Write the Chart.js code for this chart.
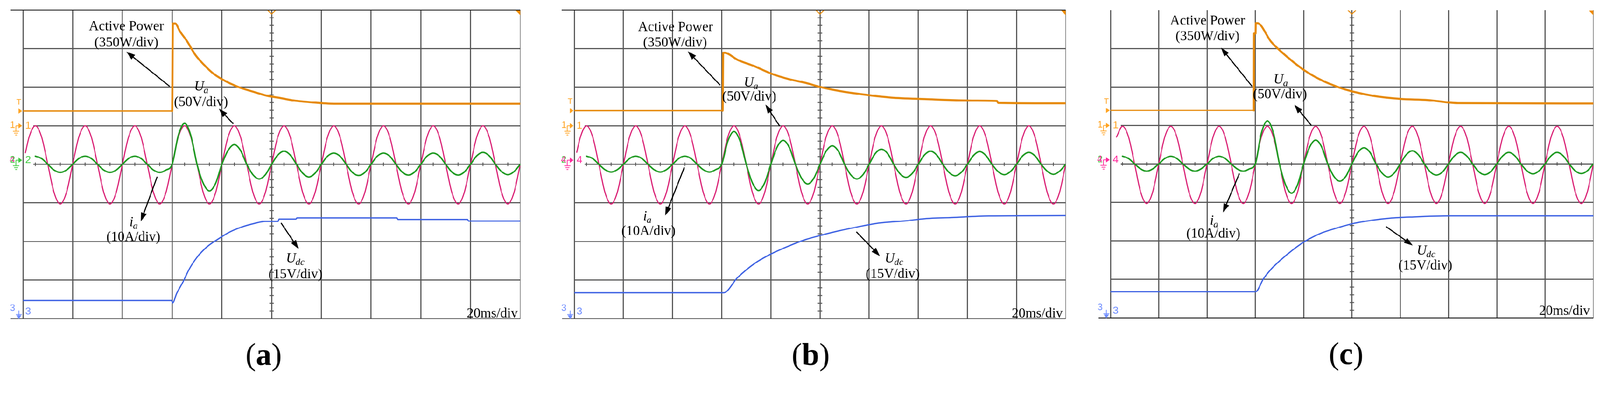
<!DOCTYPE html>
<html><head><meta charset="utf-8">
<script src="https://cdn.jsdelivr.net/npm/chart.js@4.4.1/dist/chart.umd.min.js"></script>
<style>
html,body{margin:0;padding:0;background:#fff;overflow:hidden}
#wrap{position:absolute;left:0;top:0;width:4324px;height:1020px;transform-origin:0 0}
canvas{position:absolute;top:0}
</style></head><body>
<div id="wrap">
<canvas id="ca" width="1441" height="1020" style="left:0px"></canvas>
<canvas id="cb" width="1441" height="1020" style="left:1441px"></canvas>
<canvas id="cc" width="1442" height="1020" style="left:2882px"></canvas>
</div>
<script>
// fit the 4324x1020 design to the actual viewport
(function () {
  const s = Math.min(window.innerWidth / 4324, window.innerHeight / 1020);
  if (s > 0 && Math.abs(s - 1) > 0.003) document.getElementById('wrap').style.transform = 'scale(' + s + ')';
})();

// ---------- data (time in ms, 20 ms/div; amplitudes in screen divisions) ----------
const MS_PER_DIV = 20;
const sineT = [1,2.5,5,7.5,10,12.5,15,17.5,20,22.5,25,27.5,30,32.5,35,37.5,40,42.5,45,47.5,50,52.5,55,57.5,60,
 62.5,65,67.5,70,72.5,75,77.5,80,82.5,85,87.5,90,92.5,95,97.5,100,102.5,105,107.5,110,112.5,115,117.5,120,
 122.5,125,127.5,130,132.5,135,137.5,140,142.5,145,147.5,150,152.5,155,157.5,160,162.5,165,167.5,170,172.5,
 175,177.5,180,182.5,185,187.5,190,192.5,195,197.5,200];

const uaA = [0.30,
 0.71,1.00,0.71,0,-0.73,-1.03,-0.73,0,
 0.71,1.00,0.71,0,-0.73,-1.03,-0.73,0,
 0.71,1.00,0.71,0,-0.73,-1.03,-0.73,0,
 0.71,1.00,0.71,0,-0.73,-1.03,-0.73,0,
 0.71,1.00,0.71,0,-0.73,-1.03,-0.73,0,
 0.71,1.00,0.71,0,-0.73,-1.03,-0.73,0,
 0.71,1.00,0.71,0,-0.73,-1.03,-0.73,0,
 0.71,1.00,0.71,0,-0.73,-1.03,-0.73,0,
 0.71,1.00,0.71,0,-0.73,-1.03,-0.73,0,
 0.71,1.00,0.71,0,-0.73,-1.03,-0.73,0];
const iaA = [null,
 null,0.21,0.15,0,-0.15,-0.21,-0.15,0,
 0.15,0.21,0.15,0,-0.15,-0.21,-0.15,0,
 0.15,0.21,0.15,0,-0.15,-0.21,-0.15,0,
 0.75,1.06,0.75,0,-0.49,-0.69,-0.49,0,
 0.36,0.51,0.36,0,-0.27,-0.38,-0.27,0,
 0.24,0.34,0.24,0,-0.23,-0.33,-0.23,0,
 0.21,0.29,0.21,0,-0.21,-0.29,-0.21,0,
 0.21,0.29,0.21,0,-0.20,-0.28,-0.20,0,
 0.21,0.29,0.21,0,-0.20,-0.28,-0.20,0,
 0.22,0.31,0.22,0,-0.19,-0.27,-0.19,0];
const pwrTA = [0,60,60.3,61.2,63.2,66,69.4,72.8,76.2,80.2,86.4,93.2,98,103.4,108.2,115.6,125.2,200];
const pwrVA = [1.38,1.38,3.65,3.65,3.44,3.19,2.83,2.58,2.37,2.20,2.01,1.87,1.78,1.72,1.66,1.61,1.57,1.57];
const udcTA = [0,59.8,60.2,61.8,64.6,66.6,70,74,78.2,83,87.8,93.2,97.4,102.6,103,109.8,110.2,150.4,150.8,178.8,179.2,200];
const udcVA = [-3.53,-3.53,-3.59,-3.35,-3.02,-2.75,-2.41,-2.14,-1.95,-1.76,-1.63,-1.53,-1.48,-1.48,-1.42,-1.42,-1.39,-1.39,-1.43,-1.43,-1.47,-1.47];

const uaB = [0.31,
 0.71,1.00,0.71,0,-0.73,-1.03,-0.73,0,
 0.71,1.00,0.71,0,-0.73,-1.03,-0.73,0,
 0.71,1.00,0.71,0,-0.73,-1.03,-0.73,0,
 0.71,1.00,0.71,0,-0.73,-1.03,-0.73,0,
 0.71,1.00,0.71,0,-0.73,-1.03,-0.73,0,
 0.71,1.00,0.71,0,-0.73,-1.03,-0.73,0,
 0.71,1.00,0.71,0,-0.73,-1.03,-0.73,0,
 0.71,1.00,0.71,0,-0.73,-1.03,-0.73,0,
 0.71,1.00,0.71,0,-0.73,-1.03,-0.73,0,
 0.71,1.00,0.71,0,-0.73,-1.03,-0.73,0];
const iaB = [null,
 null,0.21,0.15,0,-0.14,-0.20,-0.14,0,
 0.15,0.21,0.15,0,-0.14,-0.20,-0.14,0,
 0.15,0.21,0.15,0,-0.14,-0.20,-0.14,0,
 0.60,0.85,0.60,0,-0.48,-0.68,-0.48,0,
 0.44,0.62,0.44,0,-0.36,-0.51,-0.36,0,
 0.34,0.48,0.34,0,-0.27,-0.38,-0.27,0,
 0.28,0.39,0.28,0,-0.24,-0.34,-0.24,0,
 0.24,0.34,0.24,0,-0.21,-0.30,-0.21,0,
 0.23,0.33,0.23,0,-0.19,-0.27,-0.19,0,
 0.22,0.31,0.22,0,-0.18,-0.26,-0.18,0];
const pwrTB = [0,60.4,60.6,61.2,66.4,73.4,80.2,87.2,94.2,100.4,108,117.6,128.8,142.6,163.4,172,172.6,200];
const pwrVB = [1.39,1.39,2.89,2.89,2.71,2.54,2.35,2.21,2.11,2.00,1.90,1.81,1.73,1.69,1.65,1.64,1.59,1.58];
const udcTB = [0,60.8,66.4,73.4,80.2,87.2,94.2,100.4,108,114.8,123.2,135.6,142.6,153.6,168.8,200];
const udcVB = [-3.33,-3.33,-2.94,-2.57,-2.32,-2.12,-1.95,-1.84,-1.72,-1.63,-1.53,-1.46,-1.41,-1.38,-1.34,-1.33];

const uaC = [null,
 0.70,0.98,0.70,0,-0.73,-1.03,-0.73,0,
 0.70,0.98,0.70,0,-0.73,-1.03,-0.73,0,
 0.70,0.98,0.70,0,-0.73,-1.03,-0.73,0,
 0.70,0.98,0.70,0,-0.73,-1.03,-0.73,0,
 0.70,0.98,0.70,0,-0.73,-1.03,-0.73,0,
 0.70,0.98,0.70,0,-0.73,-1.03,-0.73,0,
 0.70,0.98,0.70,0,-0.73,-1.03,-0.73,0,
 0.70,0.98,0.70,0,-0.73,-1.03,-0.73,0,
 0.70,0.98,0.70,0,-0.73,-1.03,-0.73,0,
 0.70,0.98,0.70,0,-0.73,-1.03,-0.73,0];
const iaC = [null,
 null,0.20,0.14,0,-0.13,-0.19,-0.13,0,
 0.14,0.20,0.14,0,-0.13,-0.19,-0.13,0,
 0.14,0.20,0.14,0,-0.13,-0.19,-0.13,0,
 0.80,1.12,0.80,0,-0.54,-0.76,-0.54,0,
 0.44,0.62,0.44,0,-0.32,-0.45,-0.32,0,
 0.30,0.42,0.30,0,-0.24,-0.34,-0.24,0,
 0.24,0.34,0.24,0,-0.21,-0.29,-0.21,0,
 0.21,0.30,0.21,0,-0.20,-0.28,-0.20,0,
 0.21,0.30,0.21,0,-0.18,-0.26,-0.18,0,
 0.21,0.30,0.21,0,-0.18,-0.25,-0.18,0];
const pwrTC = [0,59.4,59.5,60.1,60.2,60.8,66.6,73.6,80.6,87.6,94.6,100.4,108.8,120,131.4,144,200];
const pwrVC = [1.39,1.39,3.39,3.39,3.66,3.66,3.17,2.76,2.42,2.17,1.99,1.88,1.77,1.69,1.66,1.58,1.57];
const udcTC = [0,60.1,63.4,66.6,73.6,80.6,87.6,94.6,100.4,108.8,115.8,124.4,140.6,200];
const udcVC = [-3.32,-3.32,-2.98,-2.73,-2.33,-2.01,-1.79,-1.65,-1.55,-1.46,-1.41,-1.38,-1.35,-1.35];

// ---------- styling ----------
const C_POWER = '#e68a0c', C_UA = '#d91c72', C_IA = '#1f9a22', C_UDC = '#3e62e3';
const M_ORANGE = '#ffa424', M_GREEN = '#3fcb3f', M_PINK = '#ff2b9c', M_BLUE = '#6f8dff';
const SERIF = '"Liberation Serif", "Times New Roman", serif';
const SANS = '"Liberation Sans", Arial, sans-serif';

const annA = {
  labels: [
    {t:'Active Power', x:2.08, y:3.47}, {t:'(350W/div)', x:2.08, y:3.05},
    {m:'U', s:'a', x:3.59, y:1.91}, {t:'(50V/div)', x:3.58, y:1.51},
    {m:'i', s:'a', x:2.23, y:-1.60}, {t:'(10A/div)', x:2.22, y:-1.99},
    {m:'U', s:'dc', x:5.48, y:-2.54}, {t:'(15V/div)', x:5.48, y:-2.96}],
  arrows: [[2.95,2.02,2.08,2.92],[4.23,1.05,3.94,1.44],[2.70,-0.32,2.37,-1.48],[5.19,-1.52,5.54,-2.19]],
  scaleTxt: {x:9.95, y:-3.97}, letter:'a', letterX:4.84
};
const annB = {
  labels: [
    {t:'Active Power', x:2.06, y:3.45}, {t:'(350W/div)', x:2.05, y:3.05},
    {m:'U', s:'a', x:3.60, y:2.02}, {t:'(50V/div)', x:3.56, y:1.65},
    {m:'i', s:'a', x:1.49, y:-1.45}, {t:'(10A/div)', x:1.51, y:-1.83},
    {m:'U', s:'dc', x:6.51, y:-2.54}, {t:'(15V/div)', x:6.48, y:-2.95}],
  arrows: [[2.97,2.05,2.31,2.93],[4.18,0.99,3.89,1.55],[2.24,-0.08,1.85,-1.33],[5.74,-1.75,6.22,-2.38]],
  scaleTxt: {x:9.94, y:-3.97}, letter:'b', letterX:4.81
};
const annC = {
  labels: [
    {t:'Active Power', x:2.01, y:3.62}, {t:'(350W/div)', x:2.01, y:3.21},
    {m:'U', s:'a', x:3.53, y:2.09}, {t:'(50V/div)', x:3.51, y:1.70},
    {m:'i', s:'a', x:2.15, y:-1.58}, {t:'(10A/div)', x:2.13, y:-1.92},
    {m:'U', s:'dc', x:6.54, y:-2.36}, {t:'(15V/div)', x:6.52, y:-2.74}],
  arrows: [[2.93,2.02,2.29,3.02],[4.16,1.00,3.81,1.54],[2.67,-0.25,2.33,-1.26],[5.71,-1.63,6.26,-2.12]],
  scaleTxt: {x:9.93, y:-3.92}, letter:'c', letterX:4.88
};

function arrow(ctx, x1, y1, x2, y2) {
  const ang = Math.atan2(y2 - y1, x2 - x1), L = 24, W = 8;
  const bx = x2 - L * Math.cos(ang), by = y2 - L * Math.sin(ang);
  ctx.beginPath(); ctx.moveTo(x1, y1); ctx.lineTo(bx, by); ctx.stroke();
  ctx.beginPath(); ctx.moveTo(x2, y2);
  ctx.lineTo(bx + W * Math.sin(ang), by - W * Math.cos(ang));
  ctx.lineTo(bx - W * Math.sin(ang), by + W * Math.cos(ang));
  ctx.closePath(); ctx.fill();
}
function groundSym(ctx, gx, gy, col) {
  ctx.strokeStyle = col; ctx.lineWidth = 2;
  ctx.beginPath();
  ctx.moveTo(gx, gy); ctx.lineTo(gx + 8, gy);
  ctx.moveTo(gx, gy); ctx.lineTo(gx, gy + 15);
  ctx.moveTo(gx - 8, gy + 15); ctx.lineTo(gx + 9, gy + 15);
  ctx.moveTo(gx - 5, gy + 20); ctx.lineTo(gx + 6, gy + 20);
  ctx.moveTo(gx - 2, gy + 25); ctx.lineTo(gx + 3, gy + 25);
  ctx.stroke();
}
function rightTri(ctx, xr, yc, col) {
  ctx.fillStyle = col; ctx.beginPath();
  ctx.moveTo(xr - 11, yc - 7); ctx.lineTo(xr - 1, yc); ctx.lineTo(xr - 11, yc + 7);
  ctx.closePath(); ctx.fill();
}

const decor = {
  id: 'decor',
  beforeDatasetsDraw(chart, args, o) {
    const {ctx, chartArea: a, scales: {x, y}} = chart;
    ctx.save();
    ctx.fillStyle = '#fff';
    [y.getPixelForValue(1), y.getPixelForValue(0)].forEach(py => ctx.fillRect(a.left + 2, py - 4, 26, 8));
    ctx.strokeStyle = '#555'; ctx.lineWidth = 2.5;
    const cx = x.getPixelForValue(100), cy = y.getPixelForValue(0);
    for (let k = -20; k <= 20; k++) {
      if (k % 5 === 0) continue;
      const py = y.getPixelForValue(k / 5);
      ctx.beginPath(); ctx.moveTo(cx - 6, py); ctx.lineTo(cx + 6, py); ctx.stroke();
    }
    for (let k = 0; k < 20; k++) {
      const px = x.getPixelForValue(5 + 10 * k);
      ctx.beginPath(); ctx.moveTo(px, cy - 5); ctx.lineTo(px, cy + 5); ctx.stroke();
    }
    ctx.strokeStyle = '#1a1a1a'; ctx.lineWidth = 2.5;
    if (o.topLine) { ctx.beginPath(); ctx.moveTo(a.left - 34, a.top); ctx.lineTo(a.right, a.top); ctx.stroke(); }
    ctx.beginPath(); ctx.moveTo(a.left - 33, a.bottom); ctx.lineTo(a.right, a.bottom); ctx.stroke();
    ctx.strokeStyle = C_POWER; ctx.lineWidth = 2.5;
    ctx.beginPath(); ctx.moveTo(cx - 11, a.top + 1); ctx.lineTo(cx, a.top + 11); ctx.lineTo(cx + 11, a.top + 1); ctx.stroke();
    ctx.fillStyle = '#f08c00';
    ctx.beginPath(); ctx.moveTo(a.right - 13, a.top + 1); ctx.lineTo(a.right, a.top + 1); ctx.lineTo(a.right, a.top + 14); ctx.closePath(); ctx.fill();
    ctx.restore();
  },
  afterDatasetsDraw(chart, args, o) {
    const {ctx, chartArea: a, scales: {x, y}} = chart;
    const L = a.left;
    ctx.save();
    ctx.textAlign = 'center'; ctx.textBaseline = 'middle';
    const yT = y.getPixelForValue(o.trigLevel);
    ctx.fillStyle = M_ORANGE; ctx.font = '22px ' + SANS;
    ctx.fillText('T', L - 11, yT - 24);
    rightTri(ctx, L - 1, yT, M_ORANGE);
    const y1 = y.getPixelForValue(1);
    ctx.font = '25px ' + SANS; ctx.fillStyle = M_ORANGE;
    ctx.fillText('1', L - 28, y1 - 1);
    groundSym(ctx, L - 19, y1, M_ORANGE);
    rightTri(ctx, L - 1, y1, M_ORANGE);
    ctx.font = '28px ' + SANS; ctx.fillStyle = M_ORANGE;
    ctx.fillText('1', L + 14, y1);
    const y2 = y.getPixelForValue(0) - 11;
    ctx.font = '25px ' + SANS;
    if (o.ch2 === '2') { ctx.fillStyle = M_PINK; ctx.fillText('4', L - 29, y2); ctx.fillStyle = M_GREEN; ctx.fillText('2', L - 28, y2); }
    else { ctx.fillStyle = M_GREEN; ctx.fillText('2', L - 28, y2); ctx.fillStyle = M_PINK; ctx.fillText('4', L - 29, y2); }
    const c2 = o.ch2 === '2' ? M_GREEN : M_PINK;
    groundSym(ctx, L - 19, y2, c2);
    rightTri(ctx, L - 1, y2, c2);
    ctx.font = '28px ' + SANS; ctx.fillStyle = c2;
    ctx.fillText(o.ch2, L + 14, y2);
    const yb = a.bottom;
    ctx.fillStyle = M_BLUE; ctx.strokeStyle = M_BLUE; ctx.lineWidth = 2;
    ctx.font = '25px ' + SANS; ctx.fillText('3', L - 28, yb - 28);
    ctx.font = '28px ' + SANS; ctx.fillText('3', L + 14, yb - 19);
    ctx.beginPath(); ctx.moveTo(L - 11, yb - 22); ctx.lineTo(L - 11, yb - 8);
    ctx.moveTo(L - 19, yb - 11); ctx.lineTo(L - 3, yb - 11); ctx.stroke();
    ctx.beginPath(); ctx.moveTo(L - 18, yb - 9); ctx.lineTo(L - 4, yb - 9); ctx.lineTo(L - 11, yb + 1); ctx.closePath(); ctx.fill();

    const ann = o.ann;
    const px = v => x.getPixelForValue(v * MS_PER_DIV), py = v => y.getPixelForValue(v);
    ctx.fillStyle = '#000'; ctx.strokeStyle = '#000'; ctx.textBaseline = 'alphabetic';
    for (const lb of ann.labels) {
      const X = px(lb.x), Y = py(lb.y);
      if (lb.t) { ctx.font = '37px ' + SERIF; ctx.textAlign = 'center'; ctx.fillText(lb.t, X, Y); }
      else {
        ctx.textAlign = 'left';
        ctx.font = 'italic 37px ' + SERIF; const w1 = ctx.measureText(lb.m).width;
        ctx.font = 'italic 26px ' + SERIF; const w2 = ctx.measureText(lb.s).width;
        const x0 = X - (w1 + w2) / 2;
        ctx.font = 'italic 37px ' + SERIF; ctx.fillText(lb.m, x0, Y);
        ctx.font = 'italic 26px ' + SERIF; ctx.fillText(lb.s, x0 + w1 - 1, Y + 7);
      }
    }
    ctx.lineWidth = 3;
    for (const ar of ann.arrows) arrow(ctx, px(ar[0]), py(ar[1]), px(ar[2]), py(ar[3]));
    ctx.font = '37px ' + SERIF; ctx.textAlign = 'right';
    ctx.fillText('20ms/div', px(ann.scaleTxt.x), py(ann.scaleTxt.y));
    const fN = '84px ' + SERIF, fB = 'bold 84px ' + SERIF;
    ctx.textAlign = 'left';
    ctx.font = fN; const wp = ctx.measureText('(').width, wq = ctx.measureText(')').width;
    ctx.font = fB; const wl = ctx.measureText(ann.letter).width;
    const lx = px(ann.letterX) - (wp + wl + wq) / 2, ly = a.bottom + 125;
    ctx.font = fN; ctx.fillText('(', lx, ly);
    ctx.font = fB; ctx.fillText(ann.letter, lx + wp, ly);
    ctx.font = fN; ctx.fillText(')', lx + wp + wl, ly);
    ctx.restore();
  }
};

function pts(ts, vs) { return ts.map((t, i) => ({x: t, y: vs[i]})); }

const panels = [
  {id:'ca', ua:uaA, ia:iaA, pT:pwrTA, pV:pwrVA, dT:udcTA, dV:udcVA, ch2:'2', topLine:true,
   pad:{left:62, right:35, top:27, bottom:158}, ann:annA, preW:3.8},
  {id:'cb', ua:uaB, ia:iaB, pT:pwrTB, pV:pwrVB, dT:udcTB, dV:udcVB, ch2:'4', topLine:true,
   pad:{left:111, right:2, top:27, bottom:158}, ann:annB, preW:3.8},
  {id:'cc', ua:uaC, ia:iaC, pT:pwrTC, pV:pwrVC, dT:udcTC, dV:udcVC, ch2:'4', topLine:false,
   pad:{left:119, right:18, top:27, bottom:160}, ann:annC, preW:2.8}
];

panels.forEach(p => {
  new Chart(document.getElementById(p.id), {
    type: 'line',
    data: {
      datasets: [
        {label:'Udc', data: pts(p.dT, p.dV), borderColor: C_UDC, borderWidth: 3.5},
        {label:'Active Power', data: pts(p.pT, p.pV), borderColor: C_POWER, borderWidth: 5.5,
         segment: {borderWidth: c => c.p0.parsed.x < 59 ? p.preW : 5.5}},
        {label:'ia', data: pts(sineT, p.ia), borderColor: C_IA, borderWidth: 4},
        {label:'Ua', data: pts(sineT, p.ua), borderColor: C_UA, borderWidth: 3}
      ]
    },
    options: {
      responsive: false, devicePixelRatio: 1, animation: false,
      layout: {padding: p.pad},
      elements: {point: {radius: 0}, line: {cubicInterpolationMode: 'monotone', borderJoinStyle: 'round', borderCapStyle: 'round'}},
      scales: {
        x: {type: 'linear', min: 0, max: 200,
            ticks: {display: false, stepSize: 20},
            grid: {drawTicks: false, lineWidth: c => c.tick && c.tick.value === 200 ? 2 : 3,
                   color: c => c.tick && c.tick.value === 200 ? '#8a8a8a' : '#565656'},
            border: {display: false}, afterFit: s => { s.height = 0; }},
        y: {type: 'linear', min: -4, max: 4,
            ticks: {display: false, stepSize: 1},
            grid: {drawTicks: false, lineWidth: 3,
                   color: c => c.tick && Math.abs(c.tick.value) === 4 ? 'rgba(0,0,0,0)' : '#565656'},
            border: {display: false}, afterFit: s => { s.width = 0; }}
      },
      plugins: {
        legend: {display: false}, tooltip: {enabled: false}, title: {display: false},
        decor: {ann: p.ann, ch2: p.ch2, topLine: p.topLine, trigLevel: p.pV[0]}
      }
    },
    plugins: [decor]
  });
});
</script>
</body></html>
